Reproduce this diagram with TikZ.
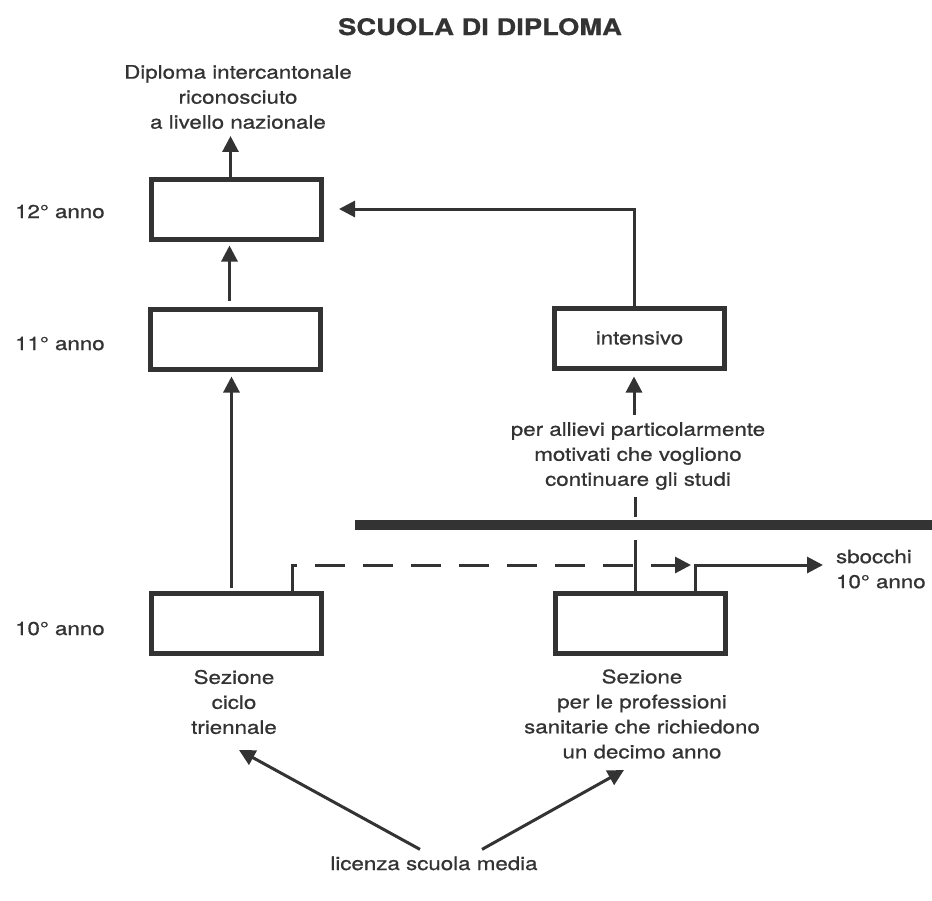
\documentclass[tikz,border=0pt]{standalone}
\usepackage{fontspec}
\setmainfont[FakeStretch=1.2,FakeBold=0.8]{TeX Gyre Heros}
\usetikzlibrary{arrows.meta}
\definecolor{ink}{gray}{0.2}

\begin{document}
\begin{tikzpicture}[x=0.5pt,y=-0.5pt,
    every node/.style={text=ink,font=\fontsize{9.3pt}{12.5pt}\selectfont},
    yearbox/.style={draw=ink,line width=2.5pt,minimum width=85pt,minimum height=30pt,inner sep=0pt},
    conn/.style={draw=ink,line width=1.5pt},
    arr/.style={conn,-{Triangle[width=8pt,length=8pt]}},
    lbl/.style={align=center}]
        % Frame
        \useasboundingbox (0,0) rectangle (932,900);

        % Title
        \node[font=\fontsize{11.4pt}{14pt}\selectfont\bfseries,anchor=base] (title) at (480,35) {SCUOLA DI DIPLOMA};

        % Year labels
        \node[anchor=base west] (y12) at (8,218) {12° anno};
        \node[anchor=base west] (y11) at (8,350) {11° anno};
        \node[anchor=base west] (y10) at (8,635) {10° anno};

        % Boxes
        \node[yearbox] (b12) at (236.5,209) {};
        \node[yearbox] (b11) at (235.5,339) {};
        \node[yearbox] (b10l) at (236.5,623) {};
        \node[yearbox] (b10r) at (640,623) {};
        \node[yearbox] (int) at (639.5,338) {intensivo};

        % Texts
        \node[lbl] (dipl) at (238,97) {Diploma intercantonale\\riconosciuto\\a livello nazionale};
        \node[lbl] (allv) at (638,456) {per allievi particolarmente\\motivati che vogliono\\continuare gli studi};
        \node[lbl] (secl) at (234,702) {Sezione\\ciclo\\triennale};
        \node[lbl] (secr) at (642,714) {Sezione\\per le professioni\\sanitarie che richiedono\\un decimo anno};
        \node[align=left,anchor=west] (sbo) at (829,569) {sbocchi\\10° anno};
        \node[anchor=base] (lic) at (434,870) {licenza scuola media};

        % Main column
        \draw[arr] ([xshift=-3pt]b12.north) -- ([xshift=-3pt]b12.north |- dipl.south);
        \draw[arr,shorten <=3pt,shorten >=2pt] ([xshift=-3pt]b11.north) -- ([xshift=-3pt]b11.north |- b12.south);
        \draw[arr,shorten <=1.5pt,shorten >=2.5pt] ([xshift=-2.5pt]b10l.north) -- ([xshift=-2.5pt]b10l.north |- b11.south);

        % Intensive path
        \draw[arr,shorten >=3pt] ([xshift=-2pt]allv.north) -- ([xshift=-2pt]allv.north |- int.south);
        \draw[arr,shorten >=7.5pt] ([xshift=-2.5pt]int.north) |- (b12.east);

        % Barrier
        \coordinate (barl) at (355,525);
        \coordinate (barr) at (932,525);
        \draw[ink,line width=5pt] (barl) -- (barr);

        % Crossing the barrier
        \coordinate (cutlo) at (635,540);
        \coordinate (cuthi) at (635,517);
        \draw[conn] (b10r.north -| cutlo) -- (cutlo);
        \draw[conn] (cuthi) -- (cuthi |- allv.south);

        % Outlets after the 10th year
        \coordinate (jn) at (695,565);
        \draw[arr,shorten >=3pt] (b10r.north -| jn) |- (sbo.west |- jn);
        \draw[arr,dash pattern=on 15pt off 9pt,shorten >=2pt] ([xshift=28pt]b10l.north) |- (jn);

        % Entry
        \coordinate (tipl) at (239,750);
        \coordinate (tipr) at (624,770);
        \draw[arr] ([xshift=-7pt]lic.north) -- (tipl);
        \draw[arr] ([xshift=24pt]lic.north) -- (tipr);
    \end{tikzpicture}
\end{document}
